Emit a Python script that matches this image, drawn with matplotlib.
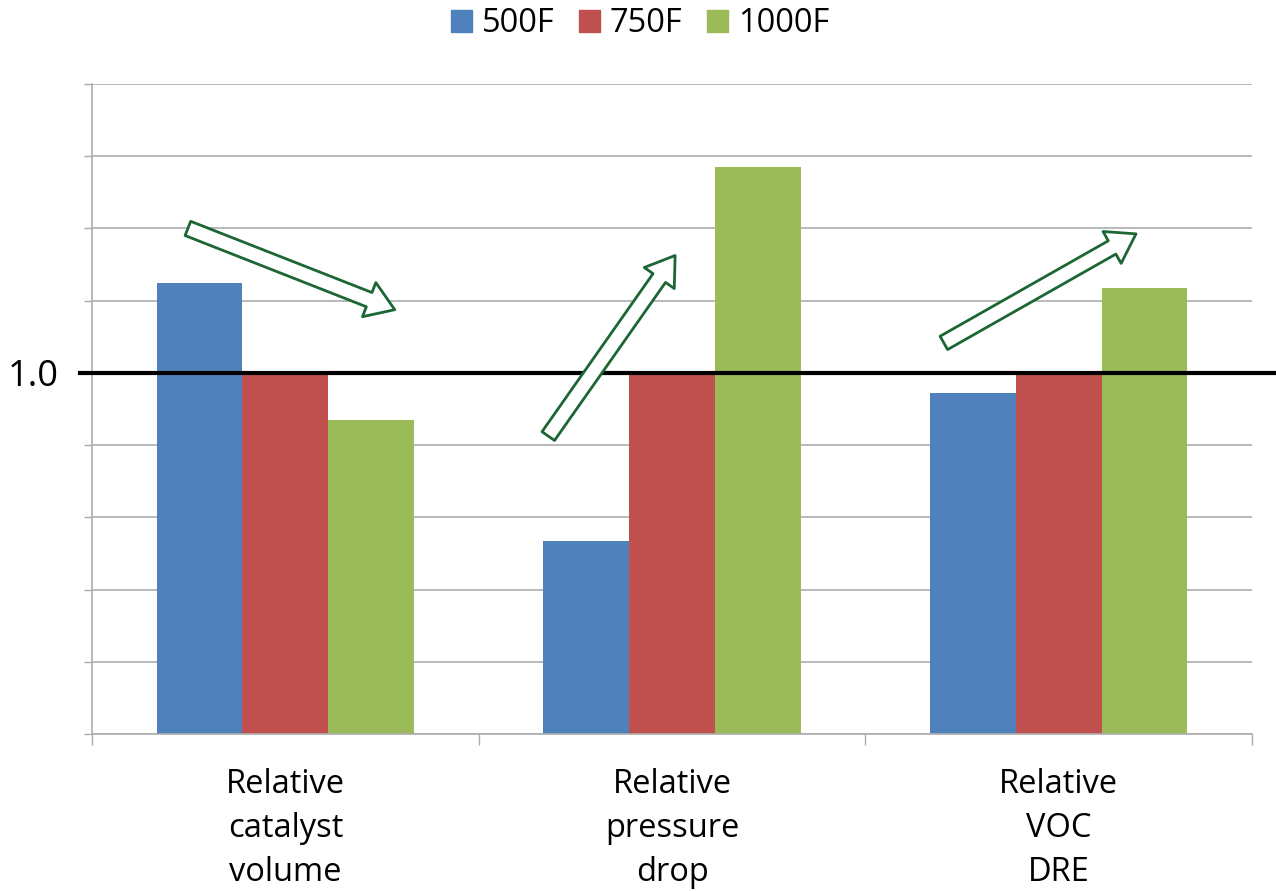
import matplotlib
matplotlib.use("Agg")
import matplotlib.pyplot as plt
from matplotlib.patches import Patch
from matplotlib.transforms import blended_transform_factory
import numpy as np

plt.rcParams['font.family'] = ['Open Sans', 'DejaVu Sans']

categories = ["Relative\ncatalyst\nvolume", "Relative\npressure\ndrop", "Relative\nVOC\nDRE"]
series_names = ["500F", "750F", "1000F"]
values_500 = [1.25, 0.535, 0.945]
values_750 = [1.0, 1.0, 1.0]
values_1000 = [0.87, 1.57, 1.235]
colors = ["#4F81BD", "#C0504D", "#9BBB59"]

# trend arrows: (tail x, tail y) -> (head x, head y) in data units
trend_arrows = [
    ((-0.252, 1.40), (0.283, 1.175)),
    ((0.68, 0.825), (1.008, 1.325)),
    ((1.703, 1.083), (2.20, 1.385)),
]

fig = plt.figure(figsize=(12.76, 8.91), dpi=100)
ax = fig.add_axes([92 / 1276, 1 - 734 / 891, (1252 - 92) / 1276, (734 - 84) / 891])

x = np.arange(len(categories))
width = 0.222
for i, (vals, name, c) in enumerate(zip([values_500, values_750, values_1000], series_names, colors)):
    ax.bar(x + (i - 1) * width, vals, width, color=c, label=name, zorder=2)

ax.set_xlim(-0.5, len(categories) - 0.5)
ax.set_ylim(0, 1.8)

grid_color = "#ADADAD"
yt = np.round(np.arange(0, 1.81, 0.2), 1)
ax.set_yticks(yt)
ax.set_yticklabels(["1.0" if abs(v - 1.0) < 1e-9 else "" for v in yt])
ax.yaxis.grid(True, color=grid_color, linewidth=1.2, zorder=0)
ax.set_axisbelow(True)
ax.tick_params(axis='y', length=6, width=1, color=grid_color, pad=18, labelsize=26)

ax.set_xticks(np.arange(-0.5, len(categories)))
ax.set_xticklabels([])
ax.set_xticks(x, minor=True)
ax.set_xticklabels(categories, minor=True, fontsize=23.5, linespacing=1.43)
ax.tick_params(axis='x', which='major', length=8, width=1, color=grid_color)
ax.tick_params(axis='x', which='minor', length=0, pad=24.5)

for s in ["top", "right"]:
    ax.spines[s].set_visible(False)
for s in ["left", "bottom"]:
    ax.spines[s].set_color(grid_color)
    ax.spines[s].set_linewidth(1.2)

# reference line at 1.0 spanning the figure width
trans = blended_transform_factory(fig.transFigure, ax.transData)
ax.plot([80 / 1276, 1.0], [1.0, 1.0], color="black", linewidth=3, transform=trans,
        clip_on=False, zorder=5)

for (x0, y0), (x1, y1) in trend_arrows:
    ax.annotate("", xy=(x1, y1), xytext=(x0, y0),
                arrowprops=dict(arrowstyle="simple,head_length=0.9,head_width=1.2,tail_width=0.5",
                                facecolor="white", edgecolor="#1B6633", linewidth=2,
                                shrinkA=0, shrinkB=0, mutation_scale=22),
                zorder=6)

handles = [Patch(facecolor=c, edgecolor=c) for c in colors]
fig.legend(handles, series_names, loc="center", bbox_to_anchor=(640 / 1276, 1 - 24 / 891),
           ncol=3, frameon=False, fontsize=23.5, handlelength=0.65, handleheight=0.65,
           handletextpad=0.3, columnspacing=0.75)

fig.savefig("out.png", dpi=100)
